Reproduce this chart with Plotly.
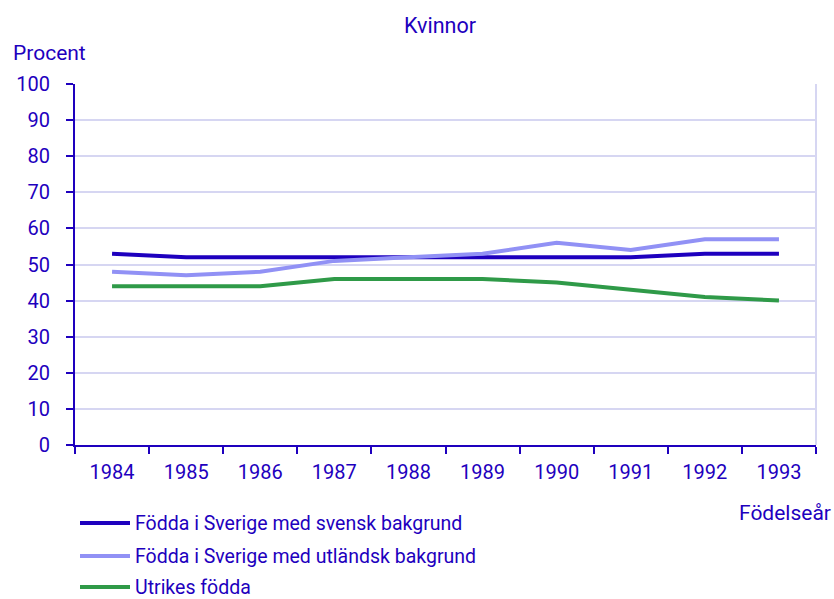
import plotly.graph_objects as go

years = ["1984", "1985", "1986", "1987", "1988", "1989", "1990", "1991", "1992", "1993"]
svensk = [53, 52, 52, 52, 52, 52, 52, 52, 53, 53]
utlandsk = [48, 47, 48, 51, 52, 53, 56, 54, 57, 57]
utrikes = [44, 44, 44, 46, 46, 46, 45, 43, 41, 40]

names = ["Födda i Sverige med svensk bakgrund",
         "Födda i Sverige med utländsk bakgrund",
         "Utrikes födda"]
colors = ["#1e00be", "#9191f5", "#2f9a48"]
text_color = "#1e00be"
grid_color = "#d6d6f2"

W, H = 834, 599
L, R, T, B = 75, 18, 84, 154
PW, PH = W - L - R, H - T - B


def px_x(px):
    return (px - L) / PW


def px_y(py):
    return (H - B - py) / PH


fig = go.Figure()
for i, (n, v) in enumerate(zip(names, [svensk, utlandsk, utrikes])):
    fig.add_trace(go.Scatter(x=years, y=v, name=n, mode="lines",
                             line=dict(color=colors[i], width=4)))

shapes = [dict(type="line", xref="paper", yref="paper", x0=1, x1=1, y0=0, y1=1,
               line=dict(color=grid_color, width=2), layer="below")]
annotations = [
    dict(text="Kvinnor", xref="paper", yref="paper", x=px_x(440), y=px_y(26),
         showarrow=False, xanchor="center", yanchor="middle",
         font=dict(family="Roboto", size=21.5, color=text_color)),
    dict(text="Procent", xref="paper", yref="paper", x=px_x(11), y=px_y(53),
         showarrow=False, xanchor="left", yanchor="middle",
         font=dict(family="Roboto", size=21, color=text_color)),
    dict(text="Födelseår", xref="paper", yref="paper", x=px_x(833), y=px_y(513),
         showarrow=False, xanchor="right", yanchor="middle",
         font=dict(family="Roboto", size=21, color=text_color)),
]

legend_rows = [523, 556, 587]
for i, n in enumerate(names):
    yy = px_y(legend_rows[i])
    shapes.append(dict(type="line", xref="paper", yref="paper",
                       x0=px_x(80), x1=px_x(130), y0=yy, y1=yy,
                       line=dict(color=colors[i], width=4)))
    annotations.append(dict(text=n, xref="paper", yref="paper", x=px_x(134), y=yy,
                            showarrow=False, xanchor="left", yanchor="middle",
                            borderpad=0,
                            font=dict(family="Roboto", size=19.5, color=text_color)))

fig.update_layout(
    width=W, height=H,
    margin=dict(l=L, r=R, t=T, b=B),
    paper_bgcolor="white", plot_bgcolor="white",
    showlegend=False,
    xaxis=dict(type="category", tickson="boundaries", showgrid=False,
               showline=True, linecolor=text_color, linewidth=2,
               ticks="outside", ticklen=7, tickcolor=text_color, tickwidth=2,
               tickfont=dict(family="Roboto", size=20, color=text_color),
               ticklabelstandoff=8, automargin=False,
               range=[-0.5, 9.5]),
    yaxis=dict(range=[0, 100], dtick=10, showgrid=True, gridcolor=grid_color,
               gridwidth=2, zeroline=False,
               showline=True, linecolor=text_color, linewidth=2,
               ticks="outside", ticklen=7, tickcolor=text_color, tickwidth=2,
               tickfont=dict(family="Roboto", size=20, color=text_color),
               ticklabelstandoff=12, automargin=False),
    shapes=shapes,
    annotations=annotations,
)

fig.write_html("out.html", config={"displayModeBar": False},
               post_script="document.body.style.margin='0';document.body.style.overflow='hidden';")
